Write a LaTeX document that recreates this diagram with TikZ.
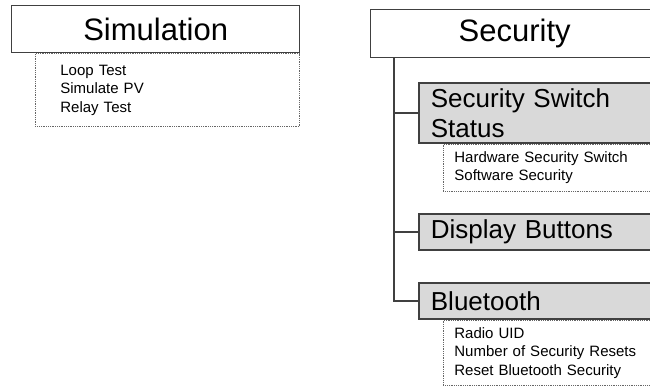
\documentclass[tikz,border=0pt]{standalone}
\usepackage{fontspec}
\setmainfont{Liberation Sans}
\usetikzlibrary{positioning}

\definecolor{boxgray}{HTML}{D9D9D9}
\definecolor{edgegray}{HTML}{404040}

\begin{document}
\begin{tikzpicture}[x=1pt, y=-1pt,
    hdr/.style={draw=edgegray, line width=1.3pt, fill=white, anchor=north west,
      minimum width=288pt, minimum height=47pt, inner sep=0pt,
      font=\fontsize{31}{36}\selectfont},
    subhdr/.style={draw=edgegray, line width=1.8pt, fill=boxgray, anchor=north west,
      text width=220pt, inner xsep=12pt, inner ysep=3pt, align=left,
      minimum height=36pt, font=\fontsize{26}{30}\selectfont},
    items/.style={draw=black!60, densely dotted, line width=0.8pt, align=left,
      inner xsep=11pt, font=\fontsize{15}{18.5}\selectfont}]
  \clip (0,0) rectangle (650,386);
  % left column
  \node[hdr] (sim) at (11,5) {Simulation};
  \node[items, below right=0pt and 24pt of sim.south west, inner xsep=25pt,
        text width=214pt, minimum height=73pt] (simlist)
    {Loop Test\\Simulate PV\\Relay Test};
  % right column
  \node[hdr, minimum height=48pt] (sec) at (370,9) {Security};
  \node[subhdr, minimum height=60pt] (sss) at (418,82) {Security Switch\\Status};
  \node[items, below right=0pt and 25pt of sss.south west, text width=200pt,
        minimum height=47pt] (ssslist)
    {Hardware Security Switch\\Software Security};
  \node[subhdr] (disp) at (418,213) {Display Buttons};
  \node[subhdr] (bt) at (418,282) {Bluetooth};
  \node[items, below right=0pt and 25pt of bt.south west, text width=200pt,
        minimum height=65pt] (btlist)
    {Radio UID\\Number of Security Resets\\Reset Bluetooth Security};
  % connectors
  \coordinate (trunk) at ([xshift=24pt]sec.south west);
  \foreach \n in {sss, disp, bt}
    \draw[edgegray, line width=1.5pt] (trunk) |- (\n.west);
\end{tikzpicture}
\end{document}
